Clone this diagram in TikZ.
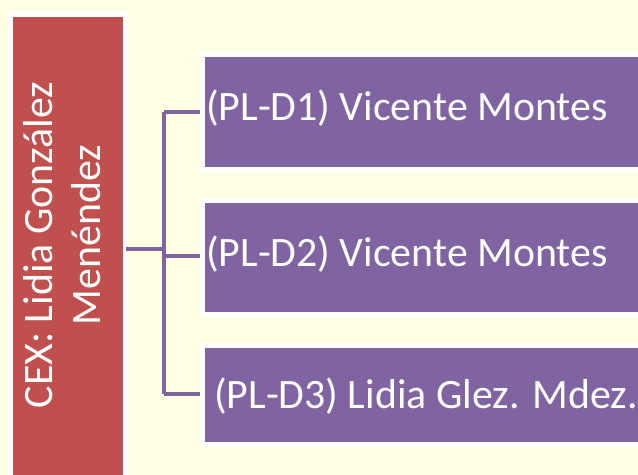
\documentclass[tikz,border=0pt]{standalone}
\usepackage{fontspec}
\setmainfont{Carlito}
\definecolor{bgyellow}{HTML}{FFFFE1}
\definecolor{cexred}{HTML}{C0504D}
\definecolor{plpurple}{HTML}{8064A2}
\begin{document}
\begin{tikzpicture}[x=1bp,y=-1bp,
  box/.style={draw=white,line width=5bp,fill=#1,inner sep=0pt,outer sep=0pt},
  lbl/.style={text=white,font=\fontsize{42}{50}\selectfont,inner sep=0pt,anchor=base west},
  rlbl/.style={text=white,font=\fontsize{42}{50}\selectfont,rotate=90,inner sep=0pt,anchor=base},
  conn/.style={draw=plpurple,line width=4.5bp}]
\useasboundingbox (0,0) rectangle (638,475);
\fill[bgyellow] (0,0) rectangle (638,475);
% root box
\node[box=cexred,minimum width=115bp,minimum height=465bp,anchor=north west] (root) at (10.5,15) {};
\node[rlbl] (rootlbl) at (52,245) {CEX: Lidia González};
\node[rlbl] (rootlbl2) at (100,235) {Menéndez};
% child boxes
\node[box=plpurple,minimum width=445bp,minimum height=115bp,anchor=north west] (b1) at (202.5,54.5) {};
\node[box=plpurple,minimum width=445bp,minimum height=114bp,anchor=north west] (b2) at (202.5,200.5) {};
\node[box=plpurple,minimum width=445bp,minimum height=99.5bp,anchor=north west] (b3) at (202.5,345) {};
\node[lbl] (t1) at (206,121) {(PL-D1) Vicente Montes};
\node[lbl] (t2) at (206,267) {(PL-D2) Vicente Montes};
\node[lbl] (t3) at (214,408) {(PL-D3) Lidia Glez. Mdez.};
% connectors
\coordinate (bus) at (164,249);
\coordinate (e1) at (200,112);
\coordinate (e2) at (200,256);
\coordinate (e3) at (200,394);
\draw[conn] (root.east |- bus) -- (bus);
\draw[conn] (bus |- e1) -- (bus |- e3);
\draw[conn] (bus |- e1) -- (e1);
\draw[conn] (bus |- e2) -- (e2);
\draw[conn] (bus |- e3) -- (e3);
\end{tikzpicture}
\end{document}
